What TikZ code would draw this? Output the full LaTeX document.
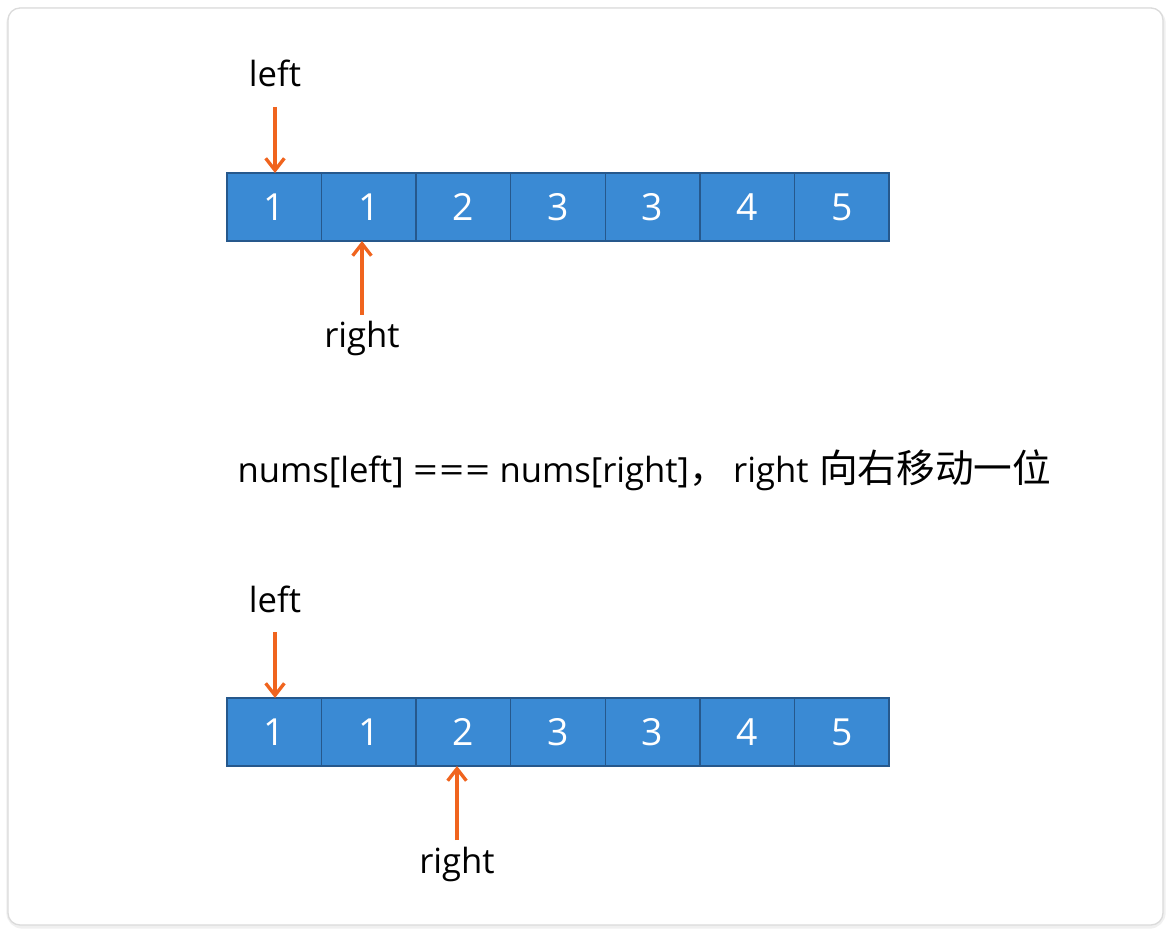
\documentclass[tikz,border=0pt]{standalone}
\usepackage{fontspec}
\setmainfont{Open Sans}
\newfontfamily\cjk{Noto Sans CJK SC}
\usetikzlibrary{arrows.meta}

\definecolor{cellblue}{RGB}{58,138,212}
\definecolor{celledge}{RGB}{38,88,140}
\definecolor{ptrorange}{RGB}{240,100,30}

\newcommand{\wideeq}{\scalebox{1.25}[1]{=}}

\tikzset{every picture/.style={line width=0.75pt}}
\tikzset{
	cell/.style={draw=celledge, fill=cellblue, line width=1.1pt, minimum width=70.93pt, minimum height=51pt,
		inner sep=0pt, outer sep=0pt, text=white, font=\fontsize{28}{28}\selectfont},
	ptr/.style={draw=ptrorange, line width=2.5pt, -{Straight Barb[length=9pt, width=14pt, line width=2.5pt]}},
	lbl/.style={anchor=base, inner sep=0pt, font=\fontsize{26}{26}\selectfont}}

\begin{document}
\begin{tikzpicture}[x=0.75pt,y=0.75pt,yscale=-1]
	\useasboundingbox (0,0) rectangle (1172,934);

	%Shape: Card 
	\draw [gray!12, line width=4pt, rounded corners=10pt] (9,10) rectangle (1163,926) ;
	\draw [gray!28, line width=1pt, fill=white, rounded corners=9pt] (8,8) rectangle (1163,925) ;

	%Shape: Array (before)
	\foreach \v [count=\i] in {1,1,2,3,3,4,5}
		\node [cell] (a\i) at ({227+94.57*(\i-0.5)},207) {\v};
	%Shape: Array (after)
	\foreach \v [count=\i] in {1,1,2,3,3,4,5}
		\node [cell] (b\i) at ({227+94.57*(\i-0.5)},732) {\v};

	% Text Node
	\node [lbl] (leftA) at (275,87) {left};
	% Text Node
	\node [lbl] (rightA) at (362,348) {right};
	% Text Node
	\node [lbl] (leftB) at (275,612) {left};
	% Text Node
	\node [lbl] (rightB) at (457,873) {right};
	% Text Node
	\node [lbl, anchor=base west] (rule) at (237,483) {nums[left]\hspace{7pt}\wideeq\hspace{1pt}\wideeq\hspace{1pt}\wideeq\hspace{7pt}nums[right]{\cjk\fontsize{28}{28}\selectfont ，}\hspace{5pt}right\hspace{8pt}{\cjk\fontsize{29}{29}\selectfont 向右移动一位}};

	%Straight Lines: pointers
	\coordinate (ltA) at (275,107);
	\coordinate (rtA) at (362,315);
	\coordinate (ltB) at (275,632);
	\coordinate (rtB) at (457,840);
	\draw [ptr] (ltA) -- (ltA |- a1.north) ;
	\draw [ptr] (rtA) -- (rtA |- a2.south) ;
	\draw [ptr] (ltB) -- (ltB |- b1.north) ;
	\draw [ptr] (rtB) -- (rtB |- b3.south) ;

\end{tikzpicture}
\end{document}
